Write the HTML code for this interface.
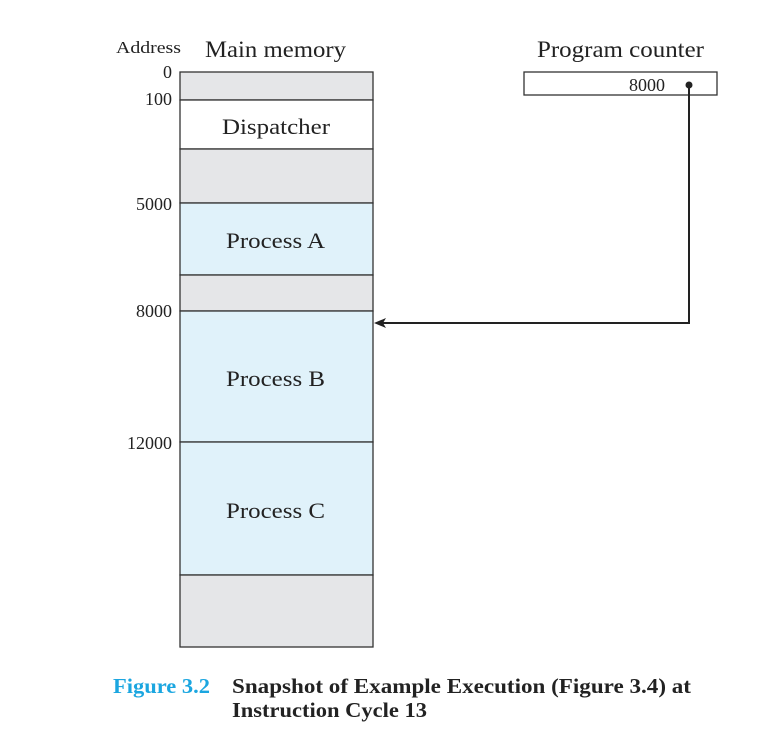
<!DOCTYPE html>
<html><head><meta charset="utf-8"><style>
html,body{margin:0;padding:0;background:#fff;}
svg{display:block;font-family:"Liberation Serif",serif;}
</style></head><body>
<svg width="759" height="739" viewBox="0 0 759 739">
  <text x="115" y="-1" font-size="22" fill="#c4e6f6" font-weight="bold">3.2 / PROCESS STATES — TWO-STATE PROCESS</text>
  <text x="116" y="53" font-size="17" fill="#222" textLength="65" lengthAdjust="spacingAndGlyphs">Address</text>
  <text x="205" y="57" font-size="23" fill="#222" textLength="141" lengthAdjust="spacingAndGlyphs">Main memory</text>
  <text x="537" y="57" font-size="23" fill="#222" textLength="167" lengthAdjust="spacingAndGlyphs">Program counter</text>
  <g stroke="#333" stroke-width="1.3">
    <rect x="180" y="72" width="193" height="28" fill="#e5e6e8"/>
    <rect x="180" y="100" width="193" height="49" fill="#fff"/>
    <rect x="180" y="149" width="193" height="54" fill="#e5e6e8"/>
    <rect x="180" y="203" width="193" height="72" fill="#e0f2fa"/>
    <rect x="180" y="275" width="193" height="36" fill="#e5e6e8"/>
    <rect x="180" y="311" width="193" height="131" fill="#e0f2fa"/>
    <rect x="180" y="442" width="193" height="133" fill="#e0f2fa"/>
    <rect x="180" y="575" width="193" height="72" fill="#e5e6e8"/>
  </g>
  <g font-size="22" fill="#222" lengthAdjust="spacingAndGlyphs">
    <text x="222" y="134" textLength="108" lengthAdjust="spacingAndGlyphs">Dispatcher</text>
    <text x="226" y="248" textLength="99" lengthAdjust="spacingAndGlyphs">Process A</text>
    <text x="226" y="386" textLength="99" lengthAdjust="spacingAndGlyphs">Process B</text>
    <text x="226" y="518" textLength="99" lengthAdjust="spacingAndGlyphs">Process C</text>
  </g>
  <g font-size="18" fill="#222" text-anchor="end">
    <text x="172" y="78">0</text>
    <text x="172" y="105">100</text>
    <text x="172" y="210">5000</text>
    <text x="172" y="317">8000</text>
    <text x="172" y="449">12000</text>
  </g>
  <rect x="524" y="72" width="193" height="23" fill="#fff" stroke="#333" stroke-width="1.3"/>
  <text x="665" y="91" font-size="18" fill="#222" text-anchor="end">8000</text>
  <circle cx="689" cy="85" r="3.5" fill="#222"/>
  <polyline points="689,85 689,323 382,323" fill="none" stroke="#222" stroke-width="2"/>
  <polygon points="374,323 386,318 383,323 386,328" fill="#222"/>
  <text x="113" y="693" font-size="21" font-weight="bold" fill="#1ba6e0" textLength="97" lengthAdjust="spacingAndGlyphs">Figure 3.2</text>
  <text x="232" y="693" font-size="21" font-weight="bold" fill="#222" textLength="459" lengthAdjust="spacingAndGlyphs">Snapshot of Example Execution (Figure 3.4) at</text>
  <text x="232" y="717" font-size="21" font-weight="bold" fill="#222" textLength="195" lengthAdjust="spacingAndGlyphs">Instruction Cycle 13</text>
</svg>
</body></html>
